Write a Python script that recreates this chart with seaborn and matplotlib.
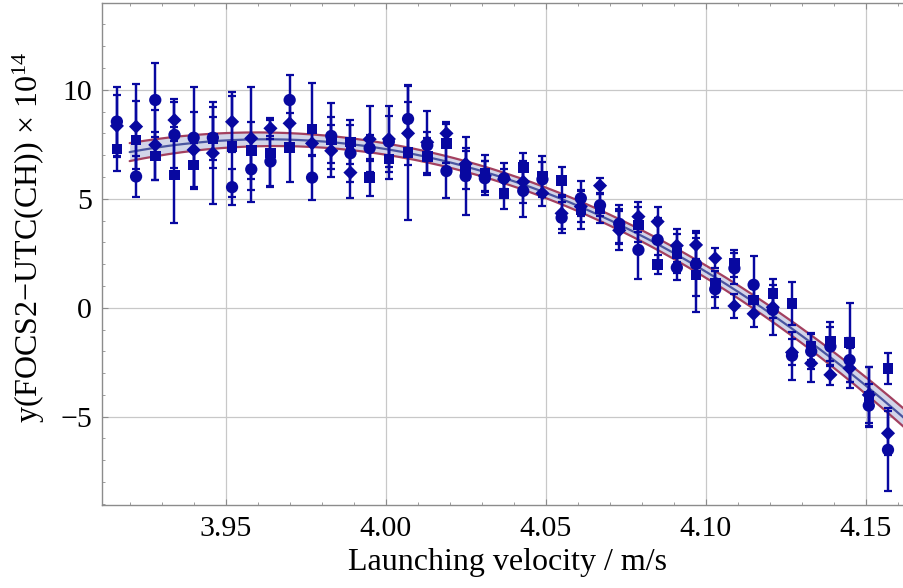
import numpy as np
import pandas as pd
import matplotlib
matplotlib.use("Agg")
import matplotlib.pyplot as plt
import seaborn as sns
from matplotlib.ticker import MultipleLocator, FormatStrFormatter

# Launching velocities (m/s) of the measurement points
velocity = [3.916, 3.922, 3.928, 3.934, 3.940, 3.946, 3.952, 3.958, 3.964, 3.970,
            3.977, 3.983, 3.989, 3.995, 4.001, 4.007, 4.013, 4.019, 4.025, 4.031,
            4.037, 4.043, 4.049, 4.055, 4.061, 4.067, 4.073, 4.079, 4.085, 4.091,
            4.097, 4.103, 4.109, 4.115, 4.121, 4.127, 4.133, 4.139, 4.145, 4.151,
            4.157]

# Series 1 (circles)
circle_y = [8.54, 6.02, 9.53, 7.93, 7.80, 7.80, 5.53, 6.35, 6.71, 9.53,
            5.97, 7.88, 7.09, 7.32, 7.62, 8.66, 7.45, 6.27, 6.04, 5.94,
            5.94, 5.36, 5.89, 4.13, 5.02, 4.70, 3.85, 2.65, 3.11, 1.84,
            2.00, 0.85, 1.81, 1.05, -0.10, -2.20, -2.00, -1.78, -2.40, -4.49,
            -6.52]
circle_err = [1.60, 0.94, 1.71, 1.53, 2.34, 1.40, 0.84, 1.48, 1.15, 1.15,
              1.03, 1.53, 1.30, 0.60, 1.18, 1.50, 0.62, 1.25, 1.80, 0.77,
              0.68, 1.22, 0.81, 0.72, 0.80, 0.50, 0.87, 1.33, 1.00, 0.56,
              1.45, 0.85, 0.70, 1.33, 1.15, 1.10, 0.80, 0.90, 1.00, 1.00,
              1.91]

# Series 2 (squares)
square_y = [7.29, 7.70, 6.96, 6.09, 6.55, 7.76, 7.39, 7.21, 7.09, 7.35,
            8.20, 7.69, 7.60, 5.97, 6.83, 7.11, 6.93, 7.54, 6.30, 6.16,
            5.25, 6.44, 6.04, 5.83, 4.49, 4.56, 3.72, 3.80, 1.99, 2.50,
            1.50, 1.10, 2.04, 0.36, 0.66, 0.20, -1.78, -1.55, -1.60, -4.08,
            -2.78]
square_err = [1.04, 1.80, 1.10, 2.19, 1.00, 1.00, 2.33, 1.30, 1.50, 1.59,
              2.13, 1.05, 1.00, 0.83, 0.94, 3.10, 0.84, 0.88, 0.87, 0.83,
              0.73, 0.68, 0.92, 0.64, 0.89, 0.68, 0.80, 0.80, 0.45, 0.90,
              1.71, 0.60, 0.61, 0.70, 0.66, 1.00, 0.60, 0.91, 1.80, 1.35,
              0.72]

# Series 3 (diamonds)
diamond_y = [8.34, 8.31, 7.47, 8.61, 7.24, 7.09, 8.53, 7.77, 8.23, 8.46,
             7.54, 7.20, 6.20, 7.73, 7.74, 8.00, 7.59, 8.00, 6.60, 6.05,
             5.90, 5.78, 5.25, 4.33, 4.64, 5.60, 3.55, 4.18, 3.95, 2.85,
             2.88, 2.27, 0.08, -0.28, 0.02, -2.05, -2.55, -3.08, -2.78, -4.00,
             -5.76]
diamond_err = [1.42, 1.94, 1.60, 0.95, 1.76, 2.35, 1.38, 2.37, 0.49, 1.00,
               0.60, 1.20, 1.15, 1.52, 1.51, 1.45, 1.43, 0.54, 0.72, 0.70,
               0.45, 0.96, 0.60, 0.74, 0.70, 0.34, 0.90, 0.69, 0.69, 0.75,
               0.66, 0.46, 0.56, 0.59, 0.50, 0.60, 0.84, 0.46, 0.91, 1.30,
               1.00]

# Quadratic fit y = a + b*(v - v0) + c*(v - v0)^2 and its confidence band
fit_v0 = 4.0
fit_a, fit_b, fit_c = 7.28, -24.0, -322.0
band_min, band_curv, band_center = 0.24, 12.0, 4.04
fit_range = (3.92, 4.162)

point_color = "#0808a0"
fit_color = "#4a55a0"
band_edge_color = "#a3405f"
band_fill_color = "#d2d5e9"
frame_color = "#8c8c8c"

sns.set_theme(style="whitegrid")
plt.rcParams.update({
    "font.family": ["Liberation Serif", "DejaVu Serif"],
    "mathtext.fontset": "custom",
    "mathtext.rm": "Liberation Serif",
    "mathtext.it": "Liberation Serif:italic",
    "mathtext.default": "regular",
    "axes.unicode_minus": True,
    "text.color": "black",
    "axes.labelcolor": "black",
    "xtick.labelcolor": "black",
    "ytick.labelcolor": "black",
})

fig = plt.figure(figsize=(9.04, 5.88), dpi=100)
ax = fig.add_axes([0.1123, 0.1412, 0.8877, 0.8537])
ax.set_facecolor("white")

# Fit curve with its band
v_fit = np.linspace(fit_range[0], fit_range[1], 300)
u = v_fit - fit_v0
y_fit = fit_a + fit_b * u + fit_c * u ** 2
half = band_min + band_curv * (v_fit - band_center) ** 2
ax.fill_between(v_fit, y_fit - half, y_fit + half, color=band_fill_color, lw=0, zorder=1)
fit_df = pd.DataFrame({"v": v_fit, "fit": y_fit, "lo": y_fit - half, "hi": y_fit + half})
sns.lineplot(data=fit_df, x="v", y="fit", color=fit_color, lw=1.6, ax=ax, zorder=2)
sns.lineplot(data=fit_df, x="v", y="lo", color=band_edge_color, lw=1.6, ax=ax, zorder=2)
sns.lineplot(data=fit_df, x="v", y="hi", color=band_edge_color, lw=1.6, ax=ax, zorder=2)

series = [
    (square_y, square_err, "s", 58),
    (diamond_y, diamond_err, "D", 52),
    (circle_y, circle_err, "o", 78),
]
for vals, errs, marker, size in series:
    ax.errorbar(velocity, vals, yerr=errs, fmt="none", ecolor=point_color,
                elinewidth=1.75, capsize=3.0, capthick=1.6, zorder=3)
    df = pd.DataFrame({"velocity": velocity, "value": vals})
    sns.scatterplot(data=df, x="velocity", y="value", marker=marker, s=size,
                    color=point_color, edgecolor="none", linewidth=0,
                    legend=False, ax=ax, zorder=4)

ax.set_xlim(3.9112, 4.162)
ax.set_ylim(-9.05, 13.98)
ax.xaxis.set_major_locator(MultipleLocator(0.05))
ax.xaxis.set_minor_locator(MultipleLocator(0.01))
ax.yaxis.set_major_locator(MultipleLocator(5))
ax.yaxis.set_minor_locator(MultipleLocator(1))
ax.xaxis.set_major_formatter(FormatStrFormatter("%.2f"))

ax.grid(True, which="major", color="#c8c8c8", lw=0.9)
ax.grid(False, which="minor")
ax.set_axisbelow(True)

for side in ["left", "bottom", "top"]:
    ax.spines[side].set_visible(True)
    ax.spines[side].set_color(frame_color)
    ax.spines[side].set_linewidth(1.0)
ax.spines["right"].set_visible(False)

ax.tick_params(which="both", direction="in", top=True, right=False,
               bottom=True, left=True, color=frame_color, labelcolor="black")
ax.tick_params(which="major", length=4, width=0.8)
ax.tick_params(which="minor", length=2, width=0.6)
ax.tick_params(axis="x", which="major", labelsize=21.5, pad=8)
ax.tick_params(axis="y", which="major", labelsize=21.5, pad=7)

ax.set_xlabel("Launching velocity / m/s", fontsize=23, color="black")
ax.set_ylabel("y(FOCS2\u2212UTC(CH)) \u00d7 10$^{14}$", fontsize=23, color="black")
ax.xaxis.set_label_coords(0.506, -0.086)
ax.yaxis.set_label_coords(-0.068, 0.534)

fig.savefig("out.png", dpi=100)
